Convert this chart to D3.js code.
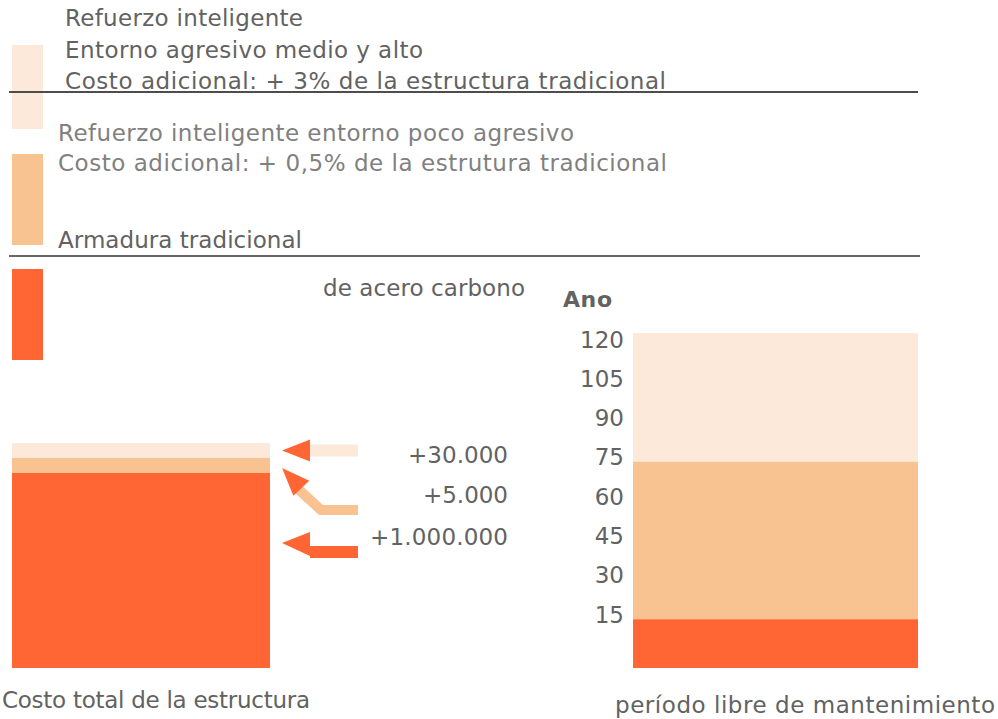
<!DOCTYPE html>
<html>
<head>
<meta charset="utf-8">
<script src="https://cdn.jsdelivr.net/npm/d3@7"></script>
<style>
  html, body { margin: 0; padding: 0; background: #fff; }
  svg { display: block; }
  text { font-family: "DejaVu Sans", Verdana, sans-serif; }
</style>
</head>
<body>
<svg id="chart" width="998" height="719"></svg>
<script>
// ---------------- DATA ----------------
const segmentKeys = ["tradicional", "pocoAgresivo", "medioAlto"];
const segmentColors = ["#FF6633", "#F8C291", "#FCE9DA"];

// Left bar: schematic cost bar (units as drawn), with its labels
const costUnits = [13, 1, 1];
const costLabels = ["+1.000.000", "+5.000", "+30.000"];

// Right bar: maintenance-free period (years, cumulative tops)
const yearTops = [17.5, 74, 120];
const yearTicks = [15, 30, 45, 60, 75, 90, 105, 120];

const legendTop = ["Refuerzo inteligente", "Entorno agresivo medio y alto", "Costo adicional: + 3% de la estructura tradicional"];
const legendMid = ["Refuerzo inteligente entorno poco agresivo", "Costo adicional: + 0,5% de la estrutura tradicional"];
const legendLow = ["Armadura tradicional", "de acero carbono"];
const axisTitle = "Ano";
const bottomLabels = ["Costo total de la estructura", "período libre de mantenimiento"];

// ---------------- DRAW ----------------
const svg = d3.select("#chart");
const FS = 23;
const dark = "#626262";
const light = "#808080";

// helper: text with target width (matches the wider Verdana metrics of the original)
function label(x, y, str, width, opts = {}) {
  const t = svg.append("text").attr("x", x).attr("y", y)
    .attr("font-size", opts.size || FS).attr("fill", opts.fill || dark)
    .text(str);
  if (opts.anchor) t.attr("text-anchor", opts.anchor);
  if (opts.weight) t.attr("font-weight", opts.weight);
  if (width) t.attr("textLength", width).attr("lengthAdjust", "spacing");
  return t;
}

// Legend swatches
const swatches = [
  {color: segmentColors[2], y0: 45, y1: 129},
  {color: segmentColors[1], y0: 154, y1: 245},
  {color: segmentColors[0], y0: 269, y1: 360}
];
svg.selectAll("rect.sw").data(swatches).join("rect")
  .attr("class", "sw")
  .attr("x", 12).attr("width", 31)
  .attr("y", d => d.y0).attr("height", d => d.y1 - d.y0)
  .attr("fill", d => d.color);

// Legend text blocks
const topWidths = [238, 358, 601];
legendTop.forEach((s, i) => label(65, 26 + i * 31.5, s, topWidths[i]));
const midWidths = [516, 609];
legendMid.forEach((s, i) => label(58, 141 + i * 30, s, midWidths[i], {fill: light}));
label(58, 248, legendLow[0], 244);
label(323, 296, legendLow[1], 202);

// Separator lines
svg.append("line").attr("x1", 9).attr("x2", 918).attr("y1", 92).attr("y2", 92)
  .attr("stroke", "#4d4d4d").attr("stroke-width", 2);
svg.append("line").attr("x1", 9).attr("x2", 920).attr("y1", 256).attr("y2", 256)
  .attr("stroke", "#333333").attr("stroke-width", 1.5);

// ---- Left bar (cost) ----
const yCost = d3.scaleLinear().domain([0, d3.sum(costUnits)]).range([668, 443]);
let acc = 0;
const costStack = costUnits.map((v, i) => { const s = {key: segmentKeys[i], y0: acc, y1: acc + v, color: segmentColors[i], label: costLabels[i]}; acc += v; return s; });
svg.selectAll("rect.cost").data(costStack).join("rect")
  .attr("class", "cost")
  .attr("x", 12).attr("width", 258)
  .attr("y", d => yCost(d.y1)).attr("height", d => yCost(d.y0) - yCost(d.y1))
  .attr("fill", d => d.color);

// Labels for cost
const labelY = [545, 503, 463];
const labelW = [138, 85, 100];
costStack.forEach((d, i) => label(508, labelY[i], d.label, labelW[i], {anchor: "end"}));

// Arrows
const tipX = 282;
// arrow for medioAlto (top)
{
  const ty = (yCost(costStack[2].y0) + yCost(costStack[2].y1)) / 2;
  svg.append("rect").attr("x", 310).attr("y", ty - 6).attr("width", 48).attr("height", 12).attr("fill", segmentColors[2]);
  svg.append("path").attr("d", `M${tipX},${ty} L310,${ty - 11} L310,${ty + 11} Z`).attr("fill", segmentColors[0]);
}
// arrow for pocoAgresivo (middle, bent)
{
  const tip = [tipX, 468];
  svg.append("path").attr("d", "M358,510 L321,510 L297,488")
    .attr("fill", "none").attr("stroke", segmentColors[1]).attr("stroke-width", 10);
  const ux = 0.69, uy = 0.724, L = 28, hw = 11;
  const bx = tip[0] + ux * L, by = tip[1] + uy * L;
  svg.append("path")
    .attr("d", `M${tip[0]},${tip[1]} L${bx - uy * hw},${by + ux * hw} L${bx + uy * hw},${by - ux * hw} Z`)
    .attr("fill", segmentColors[0]);
}
// arrow for tradicional (bottom)
{
  const ty = 543;
  svg.append("rect").attr("x", 310).attr("y", 546).attr("width", 48).attr("height", 12).attr("fill", segmentColors[0]);
  svg.append("path").attr("d", `M${tipX},${ty} L310,${ty - 11} L310,${ty + 13} Z`).attr("fill", segmentColors[0]);
}

// ---- Right bar (years) ----
const yYears = d3.scaleLinear().domain([0, 120]).range([668, 333]);
const yearStack = yearTops.map((t, i) => ({key: segmentKeys[i], y0: i === 0 ? 0 : yearTops[i - 1], y1: t, color: segmentColors[i]}));
svg.selectAll("rect.yr").data(yearStack).join("rect")
  .attr("class", "yr")
  .attr("x", 633).attr("width", 285)
  .attr("y", d => yYears(d.y1)).attr("height", d => yYears(d.y0) - yYears(d.y1))
  .attr("fill", d => d.color);

// Axis labels (tick text baselines)
const yAxisScale = d3.scaleLinear().domain([0, 120]).range([661.3, 347]);
const axisG = svg.append("g").attr("transform", "translate(624,0)")
  .call(d3.axisLeft(yAxisScale).tickValues(yearTicks).tickSize(0).tickPadding(0));
axisG.select(".domain").remove();
axisG.selectAll("text")
  .attr("dy", 0).attr("x", 0)
  .attr("font-size", FS).attr("fill", dark)
  .attr("font-family", "DejaVu Sans, Verdana, sans-serif");

label(563, 307, axisTitle, 49, {size: 22, weight: "bold"});

// Bottom labels
label(2, 708, bottomLabels[0], 308);
label(615, 713, bottomLabels[1], 380);
</script>
</body>
</html>
